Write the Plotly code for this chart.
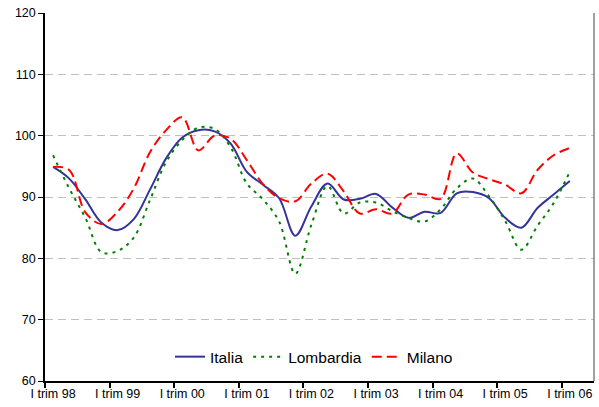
import plotly.graph_objects as go

# Quarterly categories (I trim 98 .. I trim 06)
years = ["98", "99", "00", "01", "02", "03", "04", "05", "06"]
roman = ["I", "II", "III", "IV"]
quarters = [f"{r} trim {y}" for y in years for r in roman][:33]
tick_labels = ["I trim 98", "I trim 99", "I trim 00", "I trim 01", "I trim 02",
               "I trim 03", "I trim 04", "I trim 05", "I trim 06"]

italia = [94.9, 93.0, 89.6, 85.8, 84.6, 86.4, 91.2, 96.3, 99.7, 100.9, 100.7, 98.7,
          94.1, 92.0, 89.8, 83.7, 88.5, 92.2, 89.6, 89.7, 90.5, 88.3, 86.6, 87.6,
          87.4, 90.6, 90.8, 89.8, 86.6, 85.0, 88.2, 90.4, 92.6]
lombardia = [96.8, 91.4, 86.6, 81.0, 81.2, 83.4, 89.5, 95.7, 99.3, 101.3, 101.1, 98.1,
             92.2, 89.6, 86.0, 77.5, 85.5, 91.8, 87.3, 89.1, 89.1, 87.7, 86.6, 86.0,
             88.0, 91.4, 93.0, 90.1, 86.1, 81.4, 85.3, 89.0, 94.1]
milano = [94.9, 94.4, 87.5, 85.6, 87.6, 91.4, 97.3, 100.9, 103.0, 97.6, 100.0, 99.5,
          96.0, 92.1, 89.8, 89.3, 92.2, 93.8, 90.9, 87.3, 88.0, 87.3, 90.4, 90.4,
          89.7, 97.1, 94.0, 92.9, 92.0, 90.6, 94.4, 96.8, 98.0]

x = list(range(len(quarters)))
tick_positions = [quarters.index(t) for t in tick_labels]

fig = go.Figure()
fig.add_trace(go.Scatter(x=x, y=italia, name="Italia", mode="lines",
                         line=dict(color="#333399", width=2, shape="spline", smoothing=1.0)))
fig.add_trace(go.Scatter(x=x, y=lombardia, name="Lombardia", mode="lines",
                         line=dict(color="#008000", width=2, dash="3px,5px", shape="spline", smoothing=1.0)))
fig.add_trace(go.Scatter(x=x, y=milano, name="Milano", mode="lines",
                         line=dict(color="#FF0000", width=2, dash="10px,5px", shape="spline", smoothing=1.0)))

fig.update_layout(
    width=599, height=407,
    margin=dict(l=45, r=5, t=13, b=26),
    paper_bgcolor="white", plot_bgcolor="white",
    font=dict(family="Liberation Sans, Arial, sans-serif", color="black", size=12.5),
    showlegend=True,
    legend=dict(orientation="h", x=0.49, xanchor="center", y=0.065, yanchor="middle",
                font=dict(size=15.5), bgcolor="rgba(0,0,0,0)",
                itemwidth=30, tracegroupgap=0),
    xaxis=dict(range=[-0.5, 33.5], tickvals=tick_positions, ticktext=tick_labels,
               ticks="", showgrid=False, zeroline=False,
               showline=True, linecolor="black", linewidth=1.5,
               minor=dict(tick0=-0.5, dtick=4, ticks="outside", ticklen=5,
                          tickcolor="black", tickwidth=1.5, showgrid=False),
               tickfont=dict(size=12.5)),
    yaxis=dict(range=[60, 120], dtick=10, ticks="outside", ticklen=5,
               tickcolor="black", tickwidth=1,
               showgrid=True, gridcolor="#c0c0c0", griddash="8px,5px", gridwidth=1,
               zeroline=False, showline=True, linecolor="black", linewidth=1.5,
               tickfont=dict(size=12.5)),
)

# plot area border (right)
fig.add_shape(type="line", xref="paper", yref="paper", x0=1, x1=1, y0=0, y1=1,
              line=dict(color="#808080", width=1.5))

fig.write_html("out.html", config={"displayModeBar": False},
               post_script="document.body.style.margin='0';document.body.style.overflow='hidden';")
